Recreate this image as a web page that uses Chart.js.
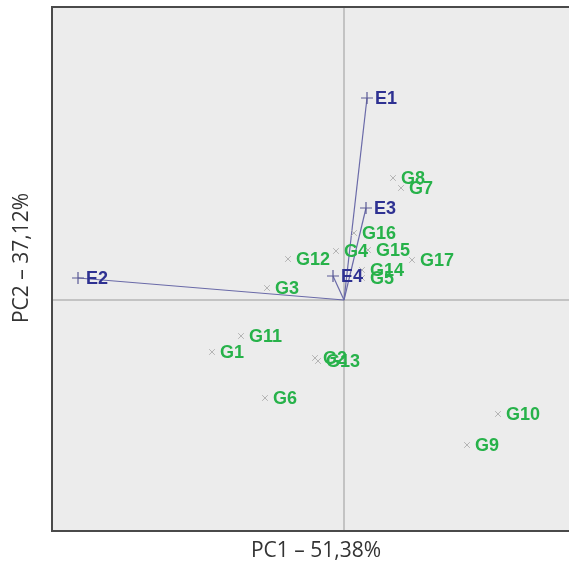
<!DOCTYPE html>
<html>
<head>
<meta charset="utf-8">
<script src="https://cdn.jsdelivr.net/npm/chart.js@4.4.1/dist/chart.umd.min.js"></script>
<style>
  html, body { margin: 0; padding: 0; background: #fff; overflow: hidden; }
</style>
</head>
<body>
<canvas id="chart" width="582" height="564"></canvas>
<script>
// genotype scores (PC1, PC2)
const genotypes = ['G1', 'G2', 'G3', 'G4', 'G5', 'G6', 'G7', 'G8', 'G9', 'G10', 'G11', 'G12', 'G13', 'G14', 'G15', 'G16', 'G17'];
const genoPC1 = [-1.32, -0.29, -0.77, -0.08, 0.18, -0.79, 0.57, 0.49, 1.23, 1.54, -1.03, -0.56, -0.26, 0.18, 0.24, 0.10, 0.68];
const genoPC2 = [-0.52, -0.58, 0.12, 0.49, 0.22, -0.98, 1.12, 1.22, -1.45, -1.14, -0.36, 0.41, -0.61, 0.30, 0.50, 0.67, 0.40];

// environment vectors (PC1, PC2)
const envs = ['E1', 'E2', 'E3', 'E4'];
const envPC1 = [0.23, -2.66, 0.22, -0.11];
const envPC2 = [2.02, 0.22, 0.92, 0.24];

const xTitle = 'PC1 – 51,38%';
const yTitle = 'PC2 – 37,12%';

const green = '#27b24a';
const blue = '#2e3192';

const vectorSets = envs.map((e, i) => ({
  type: 'line',
  data: [{ x: 0, y: 0 }, { x: envPC1[i], y: envPC2[i] }],
  borderColor: '#6a6aa8',
  borderWidth: 1.2,
  pointRadius: 0,
  order: 3
}));

const panelPlugin = {
  id: 'panel',
  beforeDraw(chart) {
    const { ctx, chartArea: a, scales } = chart;
    ctx.save();
    ctx.fillStyle = '#ececec';
    ctx.fillRect(a.left, a.top, a.right - a.left, a.bottom - a.top);
    // zero lines
    const x0 = scales.x.getPixelForValue(0);
    const y0 = scales.y.getPixelForValue(0);
    ctx.strokeStyle = '#9a9a9a';
    ctx.lineWidth = 1;
    ctx.beginPath();
    ctx.moveTo(x0, a.top); ctx.lineTo(x0, a.bottom);
    ctx.moveTo(a.left, y0); ctx.lineTo(a.right, y0);
    ctx.stroke();
    ctx.restore();
  },
  afterDraw(chart) {
    const { ctx, chartArea: a } = chart;
    ctx.save();
    ctx.strokeStyle = '#4a4a4a';
    ctx.lineWidth = 2;
    ctx.strokeRect(a.left, a.top, a.right - a.left, a.bottom - a.top);
    // labels for points
    chart.data.datasets.forEach((ds, di) => {
      if (!ds.labels) return;
      const meta = chart.getDatasetMeta(di);
      ctx.font = 'bold 18px "Liberation Sans", Arial, sans-serif';
      ctx.fillStyle = ds.labelColor;
      ctx.textBaseline = 'middle';
      ctx.textAlign = 'left';
      meta.data.forEach((pt, i) => {
        ctx.fillText(ds.labels[i], pt.x + 8, pt.y + 1);
      });
    });
    // axis titles
    ctx.fillStyle = '#333';
    ctx.font = '21px "Open Sans", sans-serif';
    ctx.textAlign = 'center';
    ctx.textBaseline = 'middle';
    ctx.fillText(xTitle, (a.left + a.right) / 2, 551);
    ctx.translate(22, 258);
    ctx.rotate(-Math.PI / 2);
    ctx.fillText(yTitle, 0, 0);
    ctx.restore();
  }
};

new Chart(document.getElementById('chart'), {
  type: 'scatter',
  data: {
    datasets: [
      ...vectorSets,
      {
        data: genotypes.map((g, i) => ({ x: genoPC1[i], y: genoPC2[i] })),
        labels: genotypes,
        labelColor: green,
        pointStyle: 'crossRot',
        pointRadius: 4,
        borderColor: '#b4b4b4',
        borderWidth: 1,
        order: 2
      },
      {
        data: envs.map((e, i) => ({ x: envPC1[i], y: envPC2[i] })),
        labels: envs,
        labelColor: blue,
        pointStyle: 'cross',
        pointRadius: 6,
        borderColor: '#5a5a96',
        borderWidth: 1.2,
        order: 1
      }
    ]
  },
  options: {
    responsive: false,
    animation: false,
    layout: { autoPadding: false, padding: { left: 52, top: 7, bottom: 33, right: 2 } },
    plugins: { legend: { display: false }, tooltip: { enabled: false } },
    scales: {
      x: { type: 'linear', display: false, min: -2.92, max: 2.36 },
      y: { type: 'linear', display: false, min: -2.31, max: 2.93 }
    }
  },
  plugins: [panelPlugin]
});
</script>
</body>
</html>
